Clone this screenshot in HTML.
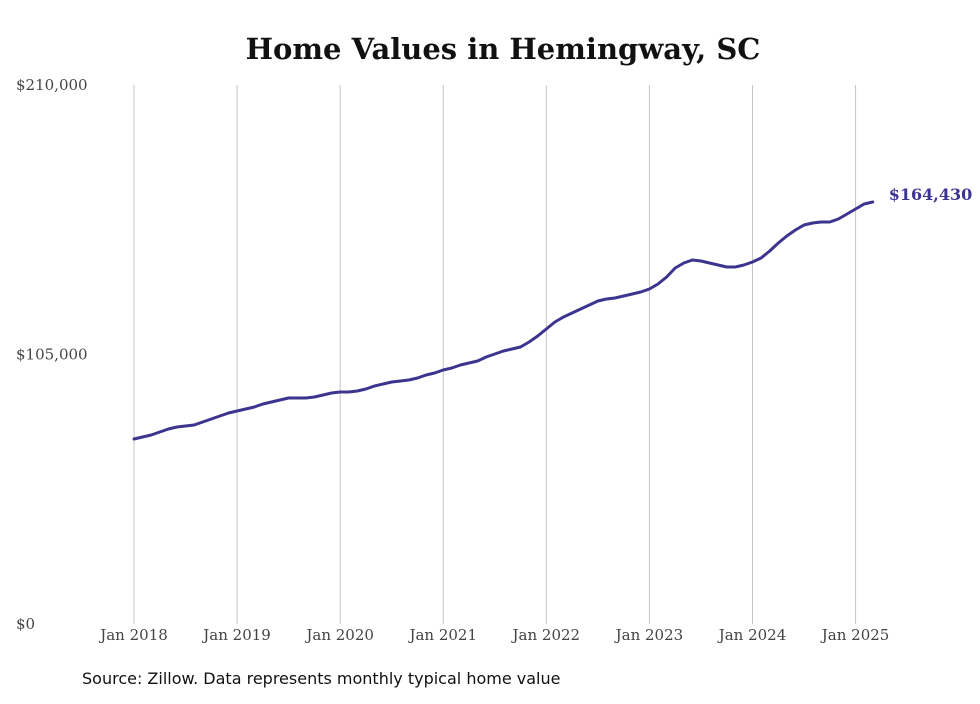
<!DOCTYPE html>
<html><head><meta charset="utf-8"><style>
body{margin:0;background:#fff;}
svg text{font-family:"DejaVu Serif","Liberation Serif",serif;}
</style></head><body>
<svg width="980" height="699" viewBox="0 0 980 699" xmlns="http://www.w3.org/2000/svg">
<rect width="980" height="699" fill="#fff"/>
<text x="503" y="59" text-anchor="middle" font-size="29" font-weight="bold" fill="#111">Home Values in Hemingway, SC</text>
<g id="grid"></g>
<g id="yaxis"></g>
<g id="xaxis"></g>
<path id="line" fill="none" stroke="#3d3490" stroke-width="3" stroke-linejoin="round" stroke-linecap="round"/>
<text id="endlabel" font-size="16" font-weight="bold" fill="#3d3490"></text>
<text x="82" y="684" font-size="16" fill="#111" style="font-family:'DejaVu Sans','Liberation Sans',sans-serif">Source: Zillow. Data represents monthly typical home value</text>
</svg>
<script>
const xTickLabels=["Jan 2018","Jan 2019","Jan 2020","Jan 2021","Jan 2022","Jan 2023","Jan 2024","Jan 2025"];
const yTickValues=[0,105000,210000];
const yTickLabels=["$0","$105,000","$210,000"];
const values=[72080,72860,73640,74800,75970,76750,77140,77530,78700,79870,81040,82200,
82990,83770,84550,85710,86490,87270,88050,88050,88050,88440,89220,90000,
90390,90390,90780,91560,92730,93510,94290,94680,95070,95850,97010,97790,
98960,99740,100910,101690,102470,104030,105200,106370,107150,107930,109870,112210,
114940,117660,119610,121170,122730,124290,125840,126620,127010,127790,128570,129350,
130520,132470,135190,138700,140650,141820,141430,140650,139870,139090,139090,139870,
141040,142600,145320,148440,151170,153510,155460,156240,156620,156620,157800,159740,
161690,163640,164430];
const endLabel="$164,430";
const x0=134,monthW=8.59,yBase=624,yTop=85,yMax=210000;
const X=i=>x0+i*monthW;
const Y=v=>yBase-(v/yMax)*(yBase-yTop);
const NS="http://www.w3.org/2000/svg";
const grid=document.getElementById('grid'),xa=document.getElementById('xaxis'),ya=document.getElementById('yaxis');
xTickLabels.forEach((t,k)=>{
  const x=X(k*12);
  const l=document.createElementNS(NS,'line');
  
  
  l.setAttribute('x1',x);l.setAttribute('x2',x);l.setAttribute('y1',yTop);l.setAttribute('y2',yBase);
  l.setAttribute('stroke','#c4c4c4');l.setAttribute('stroke-width','1');
  grid.appendChild(l);
  const tx=document.createElementNS(NS,'text');
  
  
  tx.setAttribute('x',x);tx.setAttribute('y',640);tx.setAttribute('text-anchor','middle');
  tx.setAttribute('font-size','15');tx.setAttribute('fill','#444');
  tx.textContent=t;xa.appendChild(tx);
});
yTickValues.forEach((v,k)=>{
  const tx=document.createElementNS(NS,'text');
  
  
  tx.setAttribute('x',16);tx.setAttribute('y',Y(v)+5);
  tx.setAttribute('font-size','15');tx.setAttribute('fill','#444');
  tx.textContent=yTickLabels[k];ya.appendChild(tx);
});
let d='';
values.forEach((v,i)=>{d+=(i?'L':'M')+X(i).toFixed(1)+','+Y(v).toFixed(1);});
document.getElementById('line').setAttribute('d',d);
const el=document.getElementById('endlabel');
const li=values.length-1;
el.setAttribute('x',X(li)+16);el.setAttribute('y',Y(values[li])-2);
el.textContent=endLabel;
</script>
</body></html>
